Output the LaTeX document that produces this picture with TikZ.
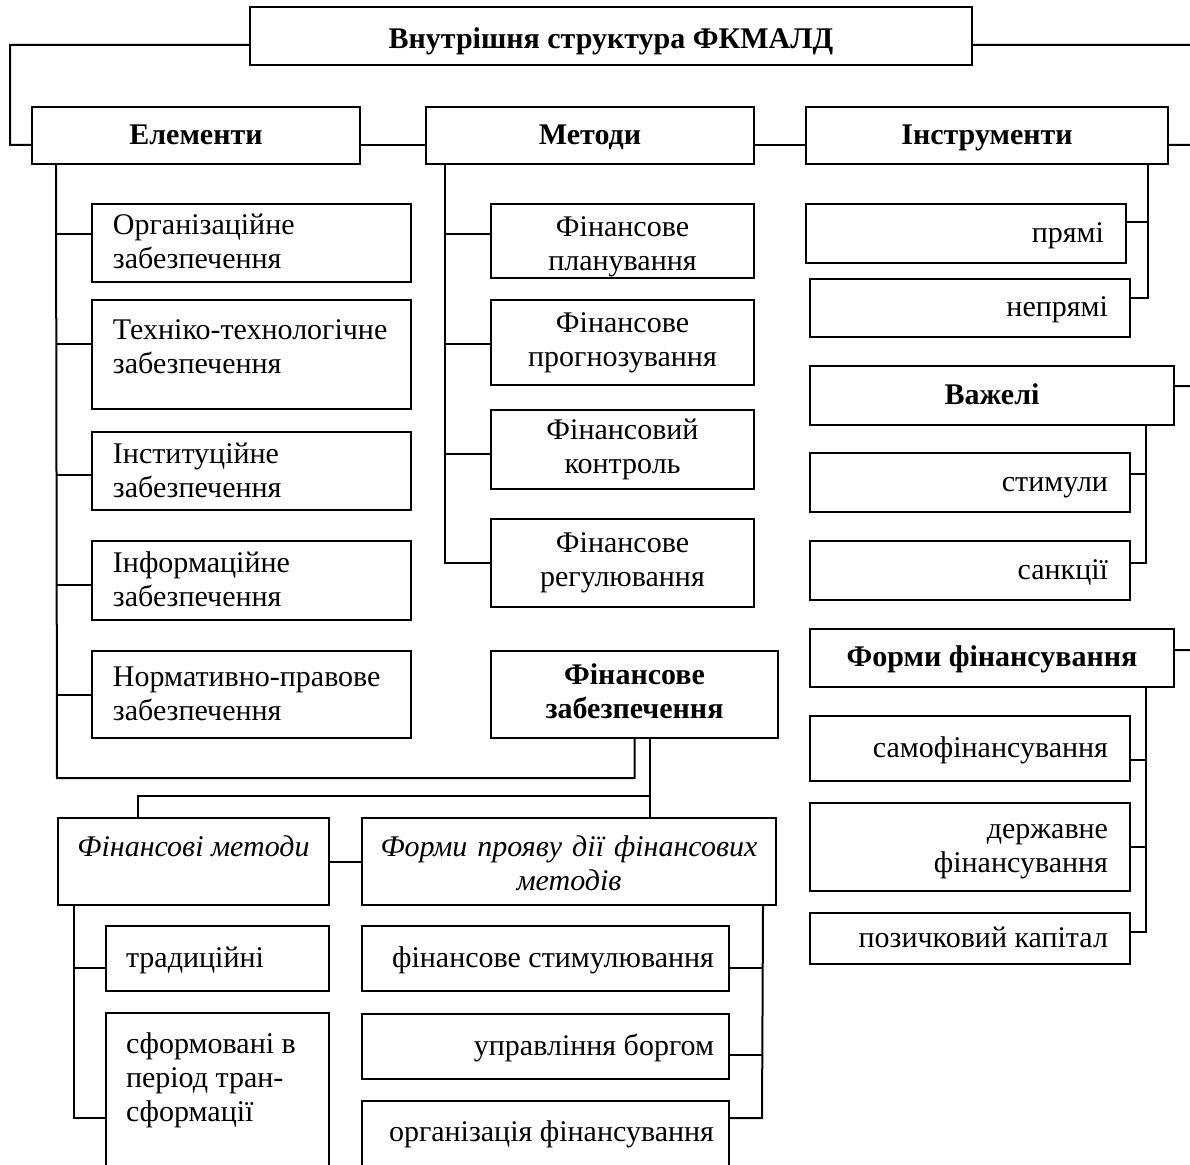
\documentclass[tikz,border=0pt]{standalone}
\usepackage{fontspec}
\setmainfont{Liberation Serif}
\usepackage{tikz}
\usetikzlibrary{positioning,calc}
\newcommand{\boxstrut}{\rule[-2.4pt]{0pt}{12pt}}
\tikzset{
    box/.style={draw, rectangle, line width=0.8pt, inner ysep=0pt, align=center,
                font=\fontsize{12}{13.6}\selectfont,
                execute at begin node=\boxstrut, execute at end node=\boxstrut},
    head/.style={box, font=\fontsize{12}{13.6}\selectfont\bfseries},
    ital/.style={box, font=\fontsize{12}{13.6}\selectfont\itshape},
    leftbox/.style={box, text width=110.8pt, inner xsep=8.4pt, align=flush left},
    rightbox/.style={box, text width=110.4pt, inner xsep=8.8pt, align=flush right},
    link/.style={draw, line width=0.8pt}
}

\begin{document}
\begin{tikzpicture}[x=0.4pt, y=-0.4pt]
    \useasboundingbox (0,0) rectangle (1190,1164);
    \clip (0,0) rectangle (1190,1164);

    % Top level
    \node[head, minimum width=288.8pt, minimum height=23.2pt, text height=11.6pt, text depth=1.2pt] (title) at (611,36) {Внутрішня структура ФКМАЛД};
    \node[head, minimum width=131.2pt, minimum height=22.8pt] (elem) at (196,135.5) {Елементи};
    \node[head, minimum width=131.2pt, minimum height=22.8pt] (meth) at (590,135.5) {Методи};
    \node[head, minimum width=144.8pt, minimum height=22.8pt] (instr) at (987,135.5) {Інструменти};

    % Elements
    \node[leftbox, minimum height=31.2pt] (org) at (251.5,243) {Організаційне\\забезпечення};
    \node[leftbox, minimum height=43.6pt, text height=16pt, text depth=27.6pt] (tech) at (251.5,354.5) {Техніко-технологічне\\забезпечення};
    \node[leftbox, minimum height=31.2pt] (inst) at (251.5,471) {Інституційне\\забезпечення};
    \node[leftbox, minimum height=31.6pt] (inform) at (251.5,580.5) {Інформаційне\\забезпечення};
    \node[leftbox, minimum height=34.8pt] (norm) at (251.5,694.5) {Нормативно-правове\\забезпечення};

    % Methods
    \node[box, text width=95pt, minimum width=105.2pt, minimum height=29.6pt, text height=13.2pt, text depth=16.4pt] (plan) at (622.5,241) {Фінансове\\планування};
    \node[box, minimum width=105.2pt, minimum height=34pt] (prog) at (622.5,342.5) {Фінансове\\прогнозування};
    \node[box, minimum width=105.2pt, minimum height=31.6pt] (ctrl) at (622.5,449.5) {Фінансовий\\контроль};
    \node[box, minimum width=105.2pt, minimum height=35.2pt] (reg) at (622.5,563) {Фінансове\\регулювання};
    \node[head, minimum width=114.8pt, minimum height=34.8pt] (zab) at (634.5,694.5) {Фінансове\\забезпечення};

    % Instruments
    \node[rightbox, minimum height=23.6pt] (pryami) at (966,233.5) {прямі};
    \node[rightbox, minimum height=23.2pt] (nepr) at (970,308) {непрямі};
    \node[head, minimum width=145.6pt, minimum height=23.6pt] (vazh) at (992,395.5) {Важелі};
    \node[rightbox, minimum height=23.6pt] (stym) at (970,482.5) {стимули};
    \node[rightbox, minimum height=23.6pt] (sank) at (970,570.5) {санкції};
    \node[head, minimum width=145.6pt, minimum height=23.2pt] (formy) at (992,658) {Форми фінансування};
    \node[rightbox, minimum height=26pt] (samo) at (970,748.5) {самофінансування};
    \node[rightbox, minimum height=35.2pt] (derzh) at (970,847) {державне\\фінансування};
    \node[rightbox, minimum height=20.4pt] (pozych) at (970,938.5) {позичковий капітал};

    % Financial methods
    \node[ital, minimum width=108.4pt, minimum height=34.8pt, text height=15.2pt, text depth=19.6pt] (finmet) at (193.5,861.5) {Фінансові методи};
    \node[ital, text width=155pt, minimum width=165.6pt, minimum height=34.8pt, text height=15.2pt, text depth=19.6pt] (proyav) at (569,861.5) {Форми прояву дії фінансових\\методів};
    \node[box, text width=73.2pt, inner xsep=8pt, align=flush left, minimum height=26pt] (trad) at (217.5,958.5) {традиційні};
    \node[box, text width=73.2pt, inner xsep=8pt, align=flush left, minimum height=84pt, text height=16pt, text depth=68pt] (sform) at (217.5,1118) {сформовані в\\період тран-\\сформації};
    \node[box, text width=134.8pt, inner xsep=6pt, align=flush right, minimum height=26pt] (stymul) at (545.5,958.5) {фінансове стимулювання};
    \node[box, text width=134.8pt, inner xsep=6pt, align=flush right, minimum height=26pt] (upr) at (545.5,1046.5) {управління боргом};
    \node[box, text width=134.8pt, inner xsep=6pt, align=flush right, minimum height=39.6pt, text height=16pt, text depth=23.6pt] (orgfin) at (545.5,1150.5) {організація фінансування};

    % Corner points
    \coordinate (cornerL) at (10,145);
    \coordinate (edgeT) at (1190,45);
    \coordinate (edgeI) at (1190,145);
    \coordinate (edgeV) at (1190,386);
    \coordinate (edgeF) at (1190,650);
    \coordinate (elemEnd) at (57,778);
    \coordinate (splitL) at (138,796);
    \coordinate (proyEnd) at (762,1118);
    \coordinate (methTr) at ([xshift=8pt]meth.south west);
    \coordinate (instrTr) at ([xshift=-8.4pt]instr.south east);
    \coordinate (vazhTr) at ([xshift=-11.6pt]vazh.south east);
    \coordinate (formyTr) at ([xshift=-11.6pt]formy.south east);
    \coordinate (zabTr) at ([xshift=6.2pt]zab.south);
    \coordinate (finTr) at ([xshift=6.8pt]finmet.south west);
    \coordinate (proyTr) at ([xshift=-5.6pt]proyav.south east);

    % Top connectors
    \draw[link] ([yshift=-3.6pt]title.west) -| (cornerL) -- ([yshift=-3.8pt]elem.west);
    \draw[link] ([yshift=-3.6pt]title.east) -- (edgeT);
    \draw[link] ([yshift=-3.8pt]elem.east) -- ([yshift=-3.8pt]meth.west);
    \draw[link] ([yshift=-3.8pt]meth.east) -- ([yshift=-3.8pt]instr.west);
    \draw[link] ([yshift=-3.8pt]instr.east) -- (edgeI);
    \draw[link] ([yshift=3.8pt]vazh.east) -- (edgeV);
    \draw[link] ([yshift=3.2pt]formy.east) -- (edgeF);

    % Elements
    \draw[link] ([xshift=10pt]elem.south west) -- (elemEnd) -| (zab.south);
    \foreach \n/\s in {org/3.6pt, tech/4.2pt, inst/-1.6pt, inform/-1.8pt, norm/0pt}
        \draw[link] ($(elemEnd |- \n.west)+(0,\s)$) -- ([yshift=\s]\n.west);

    % Methods
    \draw[link] (methTr) |- (reg.west);
    \foreach \n/\s in {plan/2.8pt, prog/-0.6pt, ctrl/-1.8pt}
        \draw[link] ($(methTr |- \n.west)+(0,\s)$) -- ([yshift=\s]\n.west);

    % Instruments, levers, forms
    \draw[link] (instrTr) |- ([yshift=4pt]nepr.east);
    \draw[link] ($(instrTr |- pryami.east)+(0,4.6pt)$) -- ([yshift=4.6pt]pryami.east);
    \draw[link] (vazhTr) |- ([yshift=3pt]sank.east);
    \draw[link] ($(vazhTr |- stym.east)+(0,3.4pt)$) -- ([yshift=3.4pt]stym.east);
    \draw[link] (formyTr) |- ([yshift=2.6pt]pozych.east);
    \foreach \n/\s in {samo/-4.6pt, derzh/0pt}
        \draw[link] ($(formyTr |- \n.east)+(0,\s)$) -- ([yshift=\s]\n.east);

    % Financial support
    \draw[link] (zabTr) -- (zabTr |- proyav.north);
    \draw[link] (zabTr |- splitL) -- (splitL) -- (splitL |- finmet.north);
    \draw[link] (finmet) -- (proyav);
    \draw[link] (finTr) |- (sform.west);
    \draw[link] ($(finTr |- trad.west)+(0,-3.8pt)$) -- ([yshift=-3.8pt]trad.west);
    \draw[link] (proyTr) -- (proyEnd) -- (proyEnd -| orgfin.east);
    \foreach \n/\s in {stymul/-3.8pt, upr/-3.4pt}
        \draw[link] ($(proyTr |- \n.east)+(0,\s)$) -- ([yshift=\s]\n.east);
\end{tikzpicture}
\end{document}
